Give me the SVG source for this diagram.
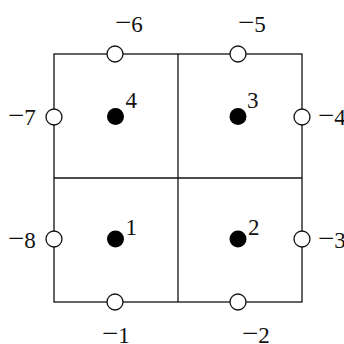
<svg xmlns="http://www.w3.org/2000/svg" width="344" height="344" viewBox="0 0 344 344">
<style>
.ln{stroke:#111;stroke-width:1.3;fill:none}
.oc{fill:#fff;stroke:#111;stroke-width:1.3}
.fc{fill:#000}
.t{font-family:'Liberation Serif','Times New Roman',serif;font-size:23px;fill:#111}
.m{font-size:29px}
</style>
<rect width="344" height="344" fill="#fff"/>
<g id="connectors">
<rect class="ln" x="54" y="54" width="248" height="248"/>
<line class="ln" x1="178" y1="54" x2="178" y2="302"/>
<line class="ln" x1="54" y1="178" x2="302" y2="178"/>
</g>
<g id="n-6"><circle class="oc" cx="115" cy="54" r="8"/><text class="t" x="115" y="32"><tspan class="m">−</tspan>6</text></g>
<g id="n-5"><circle class="oc" cx="238" cy="54" r="8"/><text class="t" x="238" y="32"><tspan class="m">−</tspan>5</text></g>
<g id="n-7"><circle class="oc" cx="54" cy="117" r="8"/><text class="t" x="8" y="125"><tspan class="m">−</tspan>7</text></g>
<g id="n-4"><circle class="oc" cx="302" cy="117" r="8"/><text class="t" x="318" y="125"><tspan class="m">−</tspan>4</text></g>
<g id="n-8"><circle class="oc" cx="54" cy="239" r="8"/><text class="t" x="8" y="248"><tspan class="m">−</tspan>8</text></g>
<g id="n-3"><circle class="oc" cx="302" cy="239" r="8"/><text class="t" x="318" y="248"><tspan class="m">−</tspan>3</text></g>
<g id="n-1"><circle class="oc" cx="115" cy="302" r="8"/><text class="t" x="102" y="342.5"><tspan class="m">−</tspan>1</text></g>
<g id="n-2"><circle class="oc" cx="238" cy="302" r="8"/><text class="t" x="242" y="342.5"><tspan class="m">−</tspan>2</text></g>
<g id="n4"><circle class="fc" cx="115.5" cy="116.5" r="8.5"/><text class="t" x="125.5" y="108">4</text></g>
<g id="n3"><circle class="fc" cx="238" cy="116.5" r="8.5"/><text class="t" x="247" y="108">3</text></g>
<g id="n1"><circle class="fc" cx="115.5" cy="239" r="8.5"/><text class="t" x="125.5" y="235">1</text></g>
<g id="n2"><circle class="fc" cx="238" cy="239" r="8.5"/><text class="t" x="248" y="235">2</text></g>
</svg>
